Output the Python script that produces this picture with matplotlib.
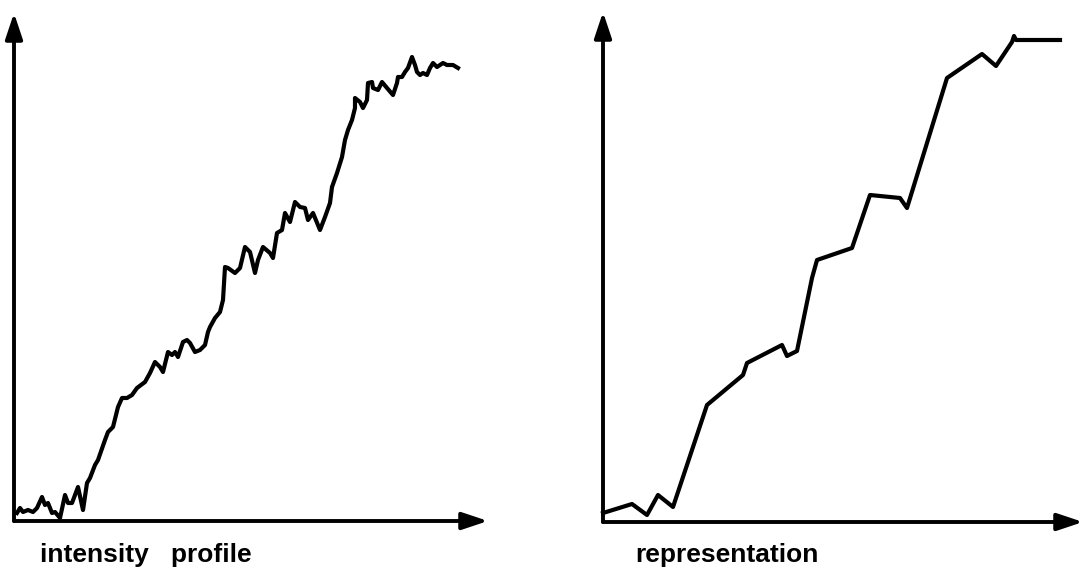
import matplotlib
matplotlib.use("Agg")
import matplotlib.pyplot as plt

# left panel: raw intensity profile (units = pixels from axis origin)
profile_x = [3, 6, 9, 14, 19, 23, 28, 31, 34, 38, 41, 46, 51, 54, 58, 64, 69, 73, 76, 81,
             84, 91, 94, 99, 104, 108, 113, 118, 123, 131, 136, 141, 146, 149, 154, 158, 161, 164, 169, 173,
             176, 181, 186, 191, 194, 196, 201, 206, 209, 211, 214, 221, 226, 231, 236, 241, 244, 249, 256, 259,
             263, 268, 271, 276, 281, 286, 291, 294, 299, 306, 311, 316, 318, 323, 328, 331, 334, 338, 341, 341,
             346, 349, 353, 354, 358, 359, 364, 368, 373, 379, 383, 384, 388, 391, 394, 398, 401, 403, 406, 409,
             413, 416, 419, 423, 426, 429, 433, 439, 444]
profile_y = [8, 13, 9, 11, 9, 13, 24, 16, 18, 8, 9, 3, 26, 18, 18, 34, 11, 38, 43, 56,
             61, 81, 89, 94, 114, 123, 123, 126, 133, 139, 148, 159, 154, 149, 169, 166, 169, 164, 179, 181,
             178, 169, 171, 176, 189, 194, 203, 209, 221, 254, 253, 248, 253, 274, 269, 248, 261, 274, 268, 263,
             288, 291, 308, 299, 319, 314, 313, 301, 308, 291, 304, 318, 334, 348, 364, 381, 391, 401, 413, 423,
             419, 413, 421, 438, 439, 433, 431, 439, 433, 426, 438, 444, 444, 449, 453, 464, 456, 449, 446, 448,
             446, 453, 458, 454, 456, 458, 456, 456, 453]

# right panel: piecewise-linear representation
repr_x = [0, 29, 44, 55, 70, 104, 140, 144, 179, 184, 194, 209, 214, 249, 267, 297, 304, 344,
          379, 393, 409, 411, 413, 457]
repr_y = [9, 18, 7, 27, 15, 117, 147, 159, 177, 166, 171, 244, 262, 274, 327, 324, 314, 444,
          468, 456, 480, 486, 482, 482]

W, H = 1083, 569
fig = plt.figure(figsize=(W / 100, H / 100), dpi=100)
fig.patch.set_facecolor("white")

arrow = dict(arrowstyle="-|>,head_length=0.6,head_width=0.2", lw=2.8, color="black",
             mutation_scale=26, shrinkA=0, shrinkB=0)


def panel(ox, oy, xlen, ylen, xs, ys, label, label_x):
    ax = fig.add_axes([ox / W, (H - oy) / H, xlen / W, ylen / H])
    ax.set_xlim(0, xlen)
    ax.set_ylim(0, ylen)
    ax.axis("off")
    ax.plot(xs, ys, color="black", lw=3.0, solid_joinstyle="round", clip_on=False)
    ax.annotate("", xy=(xlen, 0), xytext=(0, 0), arrowprops=arrow, annotation_clip=False)
    ax.annotate("", xy=(0, ylen), xytext=(0, 0), arrowprops=arrow, annotation_clip=False)
    fig.text(label_x / W, (H - 562) / H, label, fontsize=19, fontweight="bold",
             family="Liberation Sans", va="baseline", ha="left")


panel(14, 521, 474, 508, profile_x, profile_y, "intensity   profile", 40)
panel(603, 522, 480, 510, repr_x, repr_y, "representation", 635)

fig.savefig("out.png", dpi=100)
